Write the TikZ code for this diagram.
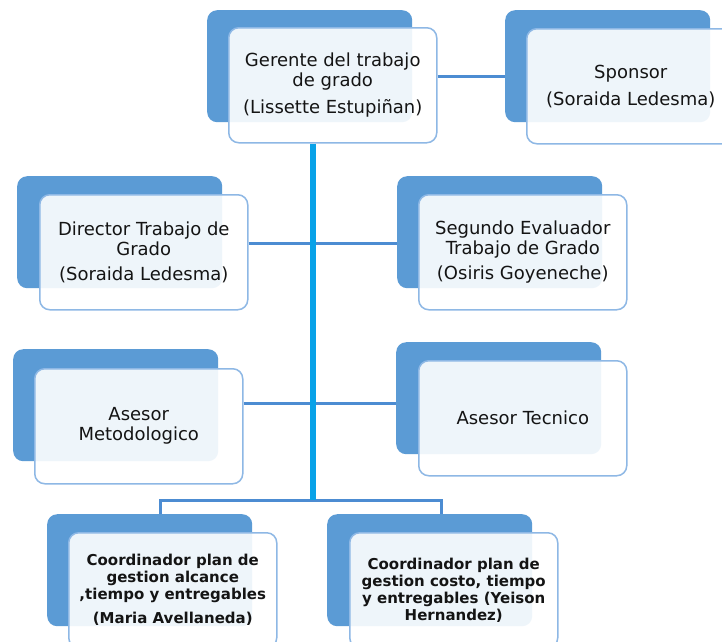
\documentclass[tikz,border=0pt]{standalone}
\usepackage{fontspec}
\setmainfont{DejaVu Sans}
\definecolor{backblue}{HTML}{5B9BD5}
\definecolor{frontline}{HTML}{8EB8E5}
\definecolor{trunkblue}{HTML}{08A2E8}
\definecolor{hlineblue}{HTML}{4C8CD2}
\definecolor{textcol}{HTML}{141414}
\begin{document}
\begin{tikzpicture}[x=1pt,y=-1pt,
  backbox/.style={draw=none, fill=backblue, rounded corners=10pt,
    minimum width=205pt, minimum height=112pt, anchor=north west, inner sep=0pt},
  frontbox/.style={draw=frontline, line width=1.5pt, fill=white, fill opacity=0.9,
    text opacity=1, rounded corners=10pt, minimum width=208pt, minimum height=115pt,
    anchor=north west, inner sep=0pt, align=center, text=textcol,
    font=\fontsize{18}{20}\selectfont},
  coordtext/.style={font=\fontsize{15}{17}\selectfont\bfseries},
  hline/.style={draw=hlineblue, line width=3pt},
  trunk/.style={draw=trunkblue, line width=5.5pt}]
\useasboundingbox (0,0) rectangle (722,641);
\fill[white] (0,0) rectangle (722,641);

\node[backbox] (gb) at (207,10) {};
\node[frontbox] (g) at (228,27) {Gerente del trabajo\\de grado\\[7pt](Lissette Estupiñan)};
\node[backbox] (sb) at (505,10) {};
\node[frontbox] (s) at (526,28) {Sponsor\\[7pt](Soraida Ledesma)};
\node[backbox] (db) at (17,176) {};
\node[frontbox] (d) at (39,194) {Director Trabajo de\\Grado\\[5pt](Soraida Ledesma)};
\node[backbox] (eb) at (397,176) {};
\node[frontbox] (e) at (418,194) {Segundo Evaluador\\Trabajo de Grado\\[5pt](Osiris Goyeneche)};
\node[backbox] (mb) at (13,349) {};
\node[frontbox] (m) at (34,368) {Asesor\\Metodologico};
\node[backbox] (tb) at (396,342) {};
\node[frontbox] (t) at (418,360) {Asesor Tecnico};
\node[backbox] (ab) at (47,514) {};
\node[frontbox, coordtext] (a) at (68,532) {Coordinador plan de\\gestion alcance\\,tiempo y entregables\\[7pt](Maria Avellaneda)};
\node[backbox] (hb) at (327,514) {};
\node[frontbox, coordtext] (h) at (349,532) {Coordinador plan de\\gestion costo, tiempo\\y entregables (Yeison\\Hernandez)};

\coordinate (l1) at (0,76);
\coordinate (l2) at (0,243);
\coordinate (l3) at (0,403);
\coordinate (tk) at (313,500);
\coordinate (j1) at (160,500);
\coordinate (j2) at (441,500);

\draw[hline] (g.east |- l1) -- (sb.west |- l1);
\draw[hline] (d.east |- l2) -- (eb.west |- l2);
\draw[hline] (m.east |- l3) -- (tb.west |- l3);
\draw[hline] (ab.north -| j1) -- (j1) -- (j2) -- (hb.north -| j2);
\draw[trunk] (g.south -| tk) -- (tk);
\end{tikzpicture}
\end{document}
